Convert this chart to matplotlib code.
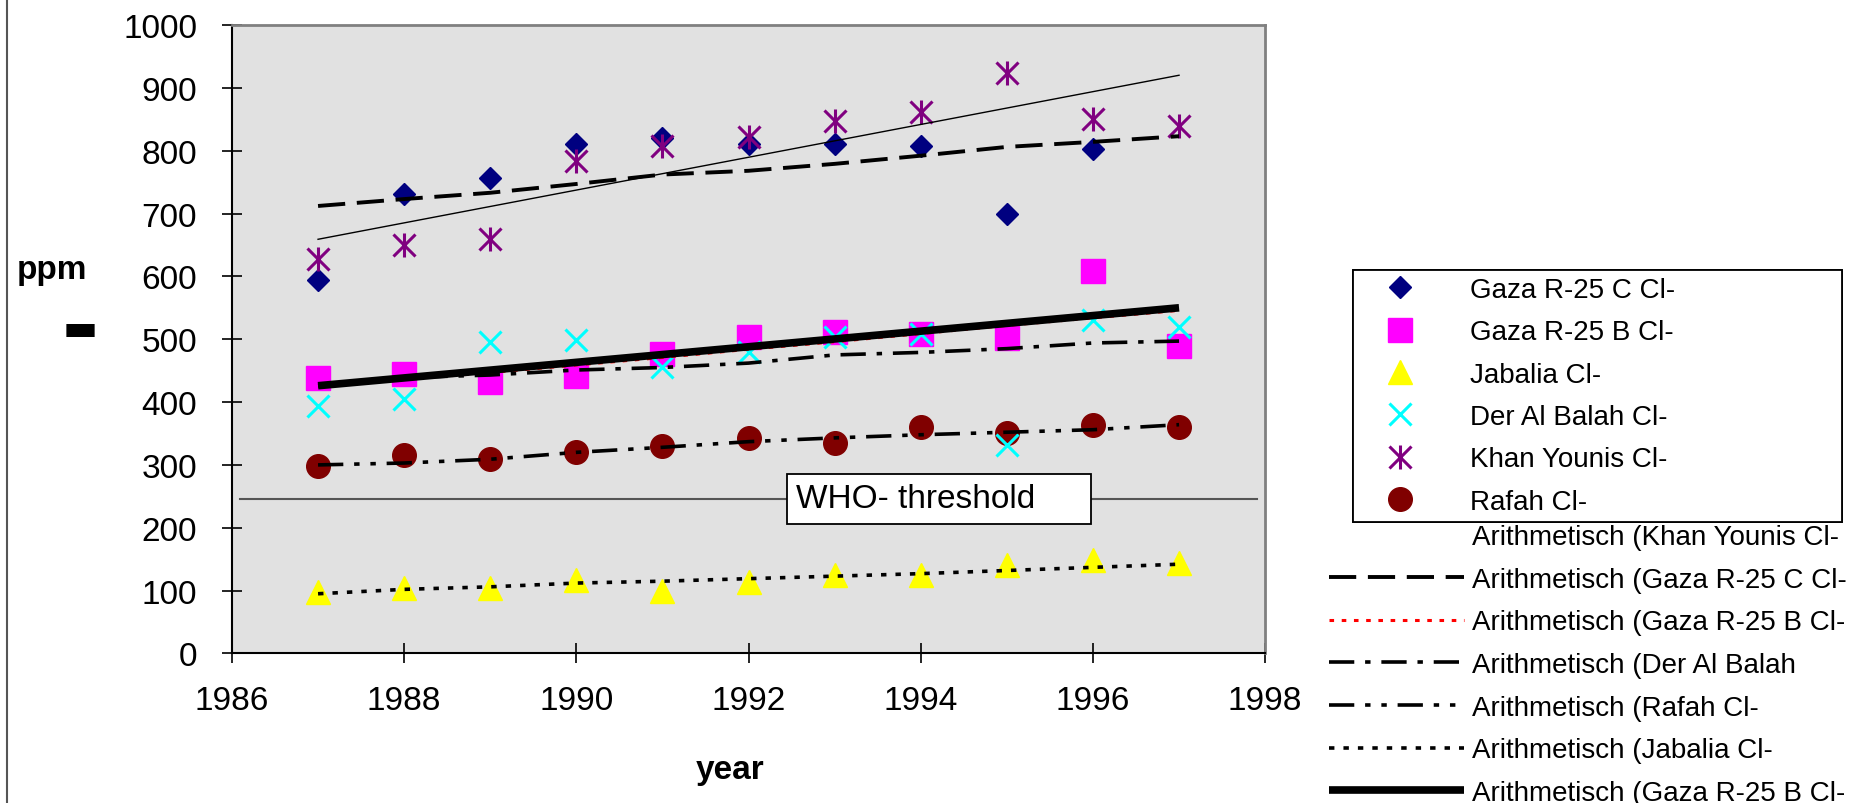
import numpy as np
import matplotlib
matplotlib.use('Agg')
import matplotlib.pyplot as plt
from matplotlib.lines import Line2D
from matplotlib.legend_handler import HandlerTuple

plt.rcParams['font.family'] = ['Liberation Sans', 'DejaVu Sans']

# data (ppm chloride)
years = [1987, 1988, 1989, 1990, 1991, 1992, 1993, 1994, 1995, 1996, 1997]

gaza_c = [595, 731, 756, 810, 820, 810, 810, 807, 700, 803, np.nan]
gaza_b = [439, 445, 432, 441, 477, 504, 511, 509, 502, 608, 489]
jabalia = [98, 104, 104, 117, 100, 114, 125, 125, 140, 148, 144]
der_al_balah = [394, 405, 496, 498, 456, 479, 504, 509, 331, 530, 519]
khan_younis = [627, 650, 659, 784, 807, 822, 847, 862, 924, 850, 839]
rafah = [299, 316, 309, 320, 330, 343, 335, 360, 350, 364, 360]

# trend lines ("Arithmetisch")
trend_years = [1987, 1997]
khan_trend = [659, 920]
gaza_b_trend = [426, 550]
gaza_c_trend = [712, 723, 733, 747, 762, 768, 779, 792, 806, 814, 823]
gaza_b_dotted = [425, 436, 447, 459, 471, 484, 496, 509, 522, 534, 546]
der_trend = [426, 439, 443, 451, 455, 462, 475, 479, 485, 494, 497]
rafah_trend = [300, 303, 309, 320, 328, 337, 343, 348, 352, 356, 364]
jabalia_trend = [95, 102, 106, 112, 115, 119, 123, 127, 132, 137, 142]

who_threshold = 246

fig = plt.figure(figsize=(18.66, 8.04), dpi=100)
ax = fig.add_axes([0.1243, 0.186, 0.5537, 0.7817])
ax.set_facecolor('#e1e1e1')

ms = 17
h_c, = ax.plot(years, gaza_c, 'D', color='#000080', ms=11.5, ls='none', zorder=3)
h_b, = ax.plot(years, gaza_b, 's', color='#ff00ff', ms=ms, ls='none', zorder=3)
h_j, = ax.plot(years, jabalia, '^', color='#ffff00', ms=ms, ls='none', zorder=3)
h_k1, = ax.plot(years, khan_younis, 'x', color='#800080', ms=16, mew=2.2, ls='none', zorder=4)
h_k2, = ax.plot(years, khan_younis, '|', color='#800080', ms=17, mew=2.2, ls='none', zorder=4)
h_d, = ax.plot(years, der_al_balah, 'x', color='#00ffff', ms=16, mew=2.2, ls='none', zorder=4)
h_r, = ax.plot(years, rafah, 'o', color='#800000', ms=ms, ls='none', zorder=3)

# trend lines on top of markers
t_k, = ax.plot(trend_years, khan_trend, color='black', lw=1, zorder=5)
t_c, = ax.plot(years, gaza_c_trend, color='black', lw=2.8, dashes=(7, 3), zorder=5)
t_bd, = ax.plot(years, gaza_b_dotted, color='red', lw=2.2, dashes=(1.5, 2.5), zorder=5)
t_d, = ax.plot(years, der_trend, color='black', lw=2.6, dashes=(7, 3, 1.5, 3), zorder=5)
t_r, = ax.plot(years, rafah_trend, color='black', lw=2.6, dashes=(7, 3, 1.5, 3, 1.5, 3), zorder=5)
t_j, = ax.plot(years, jabalia_trend, color='black', lw=2.6, dashes=(1.5, 2.5), zorder=5)
t_b, = ax.plot(trend_years, gaza_b_trend, color='black', lw=5.5, solid_capstyle='butt', zorder=6)

ax.axhline(who_threshold, xmin=0.008, xmax=0.992, color='#555555', lw=1.5, zorder=2)
ax.text(1992.55, who_threshold, 'WHO- threshold     ', fontsize=24, ha='left', va='center',
        bbox=dict(boxstyle='square,pad=0.28', facecolor='white', edgecolor='black', lw=1.3),
        zorder=7)

ax.set_xlim(1986, 1998)
ax.set_ylim(0, 1000)
ax.set_xticks(range(1986, 1999, 2))
ax.set_yticks(range(0, 1001, 100))
ax.tick_params(axis='both', direction='inout', length=14, width=1.2, labelsize=24)
ax.tick_params(axis='y', pad=18)
ax.tick_params(axis='x', pad=16)
for s in ['left', 'bottom']:
    ax.spines[s].set_color('black')
    ax.spines[s].set_linewidth(1.5)
for s in ['top', 'right']:
    ax.spines[s].set_color('#808080')
    ax.spines[s].set_linewidth(2)

fig.text(0.028, 0.664, 'ppm', fontsize=24, fontweight='bold', ha='center', va='center')
fig.text(0.043, 0.553, '-', fontsize=80, fontweight='bold', ha='center', va='baseline')
fig.text(0.391, 0.042, 'year', fontsize=24, fontweight='bold', ha='center', va='center')

fig.add_artist(Line2D([0.004, 0.004], [0, 1], color='#555555', lw=1.5))

leg1 = fig.legend([h_c, h_b, h_j, h_d, (h_k1, h_k2), h_r],
                  ['Gaza R-25 C Cl-', 'Gaza R-25 B Cl-', 'Jabalia Cl-', 'Der Al Balah Cl-',
                   'Khan Younis Cl-', 'Rafah Cl-'],
                  handler_map={tuple: HandlerTuple(ndivide=1)},
                  loc='upper left', bbox_to_anchor=(0.725, 0.354, 0.262, 0.309),
                  mode='expand', fontsize=20,
                  frameon=True, fancybox=False, edgecolor='black', framealpha=1,
                  handlelength=2.9, handletextpad=1.08, labelspacing=0.59,
                  borderpad=0.25, borderaxespad=0)
leg1.get_frame().set_linewidth(1.3)

blank = Line2D([], [], color='none')
leg2 = fig.legend([blank, t_c, t_bd, t_d, t_r, t_j, t_b],
                  ['Arithmetisch (Khan Younis Cl-', 'Arithmetisch (Gaza R-25 C Cl-',
                   'Arithmetisch (Gaza R-25 B Cl-', 'Arithmetisch (Der Al Balah',
                   'Arithmetisch (Rafah Cl-', 'Arithmetisch (Jabalia Cl-',
                   'Arithmetisch (Gaza R-25 B Cl-'],
                  loc='upper left', bbox_to_anchor=(0.712, 0.347), fontsize=20,
                  frameon=False, handlelength=4.86, handletextpad=0.29,
                  labelspacing=0.6, borderpad=0, borderaxespad=0)
fig.add_artist(leg1)

fig.savefig('out.png', dpi=100)
